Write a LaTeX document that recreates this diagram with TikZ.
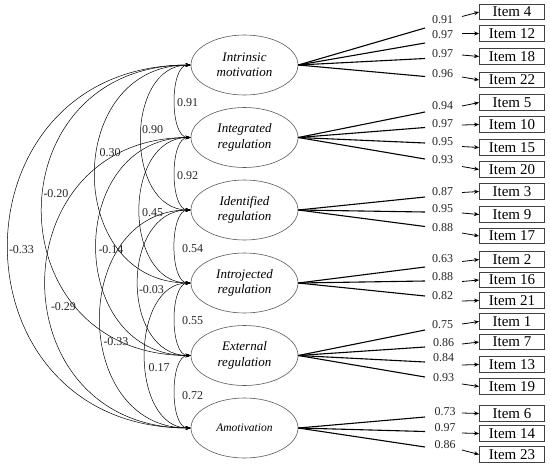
\documentclass[tikz,border=0pt]{standalone}
\usepackage{fontspec}
\setmainfont{Liberation Serif}
\usetikzlibrary{arrows.meta,shapes.geometric}
\tikzset{
 factor/.style={ellipse, draw=black!65, line width=0.6pt, minimum width=107pt, minimum height=60pt, inner sep=0pt, align=center, font=\fontsize{13}{15.5}\selectfont\itshape},
 itembox/.style={draw=black!75, line width=0.8pt, minimum width=65pt, minimum height=15.5pt, inner sep=0pt, font=\fontsize{15}{15}\selectfont},
 num/.style={inner sep=0pt, font=\fontsize{12}{12}\selectfont, text=black!85},
 load/.style={line width=1.1pt, black},
 ptr/.style={line width=0.8pt, -{Stealth[length=5pt,width=4pt]}},
 cov/.style={line width=0.5pt, {Stealth[length=5pt,width=3.5pt]}-{Stealth[length=5pt,width=3.5pt]}},
}
% #1 factor, #2 item no, #3 box y, #4 value, #5 label x, #6 label y, #7 line end y, #8 arrow start y
\newcommand\mkload[8]{%
 \node[itembox] (i#2) at (512,#3) {Item #2};
 \node[num] (l#2) at (#5,#6) {#4};
 \coordinate (e#2) at (425,#7);
 \coordinate (s#2) at (462,#8);
 \draw[load] (#1.east) -- (e#2);
 \draw[ptr] (s#2) -- (i#2.west);
}
\begin{document}
\begin{tikzpicture}[x=1pt,y=-1pt]
\useasboundingbox (0,0) rectangle (550,467);
% factors
\node[factor] (F1) at (244.5,65) {Intrinsic\\motivation};
\node[factor] (F2) at (244.5,137.5) {Integrated\\regulation};
\node[factor] (F3) at (244.5,210) {Identified\\regulation};
\node[factor] (F4) at (244.5,283) {Introjected\\regulation};
\node[factor] (F5) at (244.5,355.5) {External\\regulation};
\node[factor] (F6) at (244.5,428) {\fontsize{11.5}{13}\selectfont Amotivation};
% loadings
\mkload{F1}{4}{12}{0.91}{442.5}{19.5}{28}{16.5}
\mkload{F1}{12}{33.5}{0.97}{442.5}{35}{43}{33.5}
\mkload{F1}{18}{56.5}{0.97}{442.5}{53.5}{58.5}{55}
\mkload{F1}{22}{80}{0.96}{442.5}{74}{76.5}{77}
\mkload{F2}{5}{102.5}{0.94}{442.5}{105.5}{112}{106}
\mkload{F2}{10}{124.5}{0.97}{442.5}{123.5}{127.5}{125}
\mkload{F2}{15}{147.5}{0.95}{442.5}{142}{143}{146.5}
\mkload{F2}{20}{169.5}{0.93}{442.5}{160}{159}{166.5}
\mkload{F3}{3}{191.5}{0.87}{442.5}{192}{197}{192.5}
\mkload{F3}{9}{214.5}{0.95}{442.5}{209}{212}{213}
\mkload{F3}{17}{236}{0.88}{442.5}{228}{226.5}{233}
\mkload{F4}{2}{259.5}{0.63}{442.5}{259}{267}{261.5}
\mkload{F4}{16}{280}{0.88}{442.5}{277}{281}{281.5}
\mkload{F4}{21}{300.5}{0.82}{442.5}{296}{296}{301}
\mkload{F5}{1}{321.5}{0.75}{442.5}{325}{330}{324}
\mkload{F5}{7}{342}{0.86}{443.5}{343}{347}{344}
\mkload{F5}{13}{364.5}{0.84}{443.5}{358}{362}{365}
\mkload{F5}{19}{386.5}{0.93}{443.5}{378}{377}{384}
\mkload{F6}{6}{413.5}{0.73}{445}{412}{417}{413}
\mkload{F6}{14}{433.5}{0.97}{445}{428}{431.5}{433}
\mkload{F6}{23}{454.5}{0.86}{445}{445}{447}{450}
% covariances
\draw[cov] (F1.west) to[out=180,in=180,looseness=0.75] (F2.west);
\draw[cov] (F2.west) to[out=180,in=180,looseness=0.75] (F3.west);
\draw[cov] (F3.west) to[out=180,in=180,looseness=0.75] (F4.west);
\draw[cov] (F4.west) to[out=180,in=180,looseness=0.75] (F5.west);
\draw[cov] (F5.west) to[out=180,in=180,looseness=0.75] (F6.west);
\draw[cov] (F1.west) to[out=180,in=180,looseness=1.17] (F3.west);
\draw[cov] (F2.west) to[out=180,in=180,looseness=1.2] (F4.west);
\draw[cov] (F3.west) to[out=180,in=180,looseness=1.24] (F5.west);
\draw[cov] (F4.west) to[out=180,in=180,looseness=1.08] (F6.west);
\draw[cov] (F1.west) to[out=180,in=180,looseness=1.5] (F4.west);
\draw[cov] (F2.west) to[out=180,in=180,looseness=1.48] (F5.west);
\draw[cov] (F3.west) to[out=180,in=180,looseness=1.42] (F6.west);
\draw[cov] (F1.west) to[out=180,in=180,looseness=1.75] (F5.west);
\draw[cov] (F2.west) to[out=180,in=180,looseness=1.71] (F6.west);
\draw[cov] (F1.west) to[out=180,in=180,looseness=1.72] (F6.west);
% covariance labels
\node[num] (c12) at (187.5,103) {0.91};
\node[num] (c23) at (187.5,176) {0.92};
\node[num] (c34) at (192.5,249) {0.54};
\node[num] (c45) at (192.5,320.5) {0.55};
\node[num] (c56) at (192.5,396) {0.72};
\node[num] (c13) at (152.5,130) {0.90};
\node[num] (c24) at (152.5,213) {0.45};
\node[num] (c35) at (151.5,290) {-0.03};
\node[num] (c46) at (159,368) {0.17};
\node[num] (c14) at (110,153) {0.30};
\node[num] (c25) at (111,250) {-0.14};
\node[num] (c36) at (116,342) {-0.33};
\node[num] (c15) at (56,194) {-0.20};
\node[num] (c26) at (63.5,307) {-0.29};
\node[num] (c16) at (21.5,250) {-0.33};
\end{tikzpicture}
\end{document}
